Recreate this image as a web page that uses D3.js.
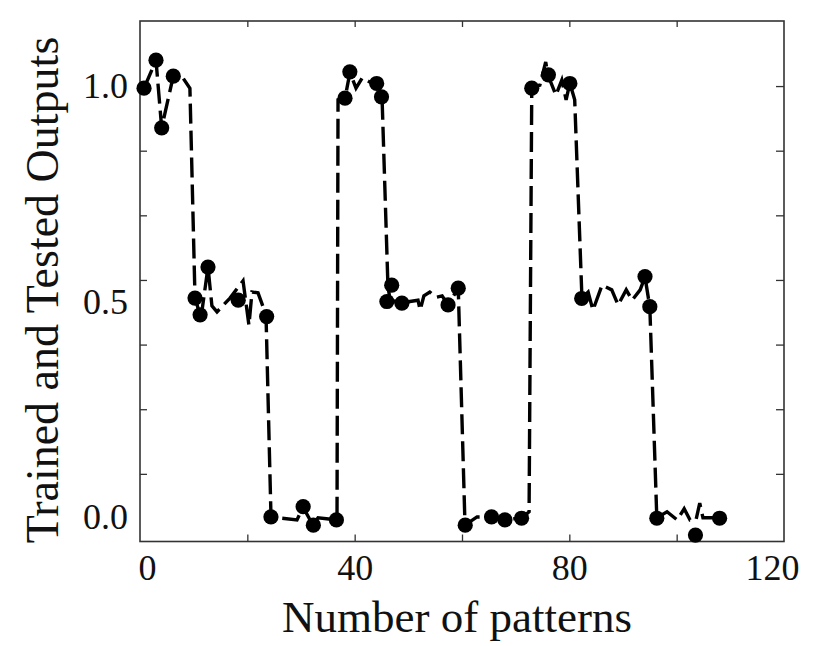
<!DOCTYPE html>
<html lang="en">
<head>
    <meta charset="UTF-8">
    <title>Trained and Tested Outputs</title>
    <script src="https://d3js.org/d3.v7.min.js"></script>
    <style>
        body {
            margin: 0;
            background-color: #fff;
        }
        svg text {
            font-family: "Liberation Serif", "DejaVu Serif", serif;
            fill: #111;
        }
        .tick line {
            stroke: #333;
            stroke-width: 1.3;
        }
    </style>
</head>
<body>
    <div id="chart"></div>

    <script>
        // Trained outputs (dashed line)
        const trainedX = [
            0.75, 2.98, 4.04, 6.2, 8.0, 9.3,
            10.25, 11.37, 12.67, 13.4, 14.35, 16.77, 19.2, 20.3, 20.87, 21.99, 23.48,
            24.41, 29.25, 30.37, 32.23, 33.17, 36.71,
            36.9, 38.2, 39.13, 40.25, 41.4, 42.86, 44.16, 45.1,
            46.2, 46.6, 48.8, 51.8, 52.2, 52.9, 54.0, 55.2, 56.3, 57.4, 59.3,
            60.56, 62.8, 65.6, 68.0, 71.2, 72.5,
            73.0, 74.5, 75.6, 76.0, 77.5, 78.6, 79.4, 80.1, 81.0,
            82.35, 83.5, 84.4, 86.1, 87.9, 89.1, 90.6, 91.7, 93.2, 94.1, 95.0,
            96.3, 98.2, 100.1, 101.4, 102.5, 103.6, 104.3, 104.9, 108.1
        ];
        const trainedY = [
            0.995, 1.060, 0.903, 1.023, 1.019, 0.995,
            0.508, 0.462, 0.580, 0.490, 0.476, 0.508, 0.548, 0.445, 0.522, 0.520, 0.469,
            0.0, -0.007, 0.023, -0.019, -0.002, -0.007,
            0.968, 0.972, 1.032, 0.995, 1.019, 1.009, 1.007, 0.974,
            0.536, 0.503, 0.497, 0.503, 0.480, 0.513, 0.522, 0.510, 0.513, 0.492, 0.531,
            -0.019, 0.0, 0.0, -0.007, -0.002, 0.012,
            0.995, 1.002, 1.056, 1.026, 0.979, 1.014, 0.968, 1.007, 0.968,
            0.508, 0.522, 0.480, 0.538, 0.527, 0.492, 0.527, 0.503, 0.527, 0.557, 0.487,
            -0.002, 0.012, -0.007, 0.019, -0.007, -0.007, 0.032, -0.002, -0.002
        ];

        // Tested outputs (filled circles)
        const testedX = [
            0.75, 2.98, 4.04, 6.2,
            10.25, 11.2, 12.67, 18.3, 23.6,
            24.4, 30.4, 32.3, 36.6,
            38.2, 39.1, 44.1, 45.0,
            46.0, 46.9, 48.8, 57.4, 59.3,
            60.6, 65.5, 68.0, 71.1,
            73.0, 76.1, 80.1,
            82.3, 94.1, 95.0,
            96.3, 103.5, 108.0
        ];
        const testedY = [
            0.995, 1.060, 0.903, 1.023,
            0.508, 0.469, 0.580, 0.503, 0.465,
            0.0, 0.024, -0.019, -0.007,
            0.972, 1.033, 1.006, 0.975,
            0.500, 0.538, 0.496, 0.492, 0.531,
            -0.019, 0.0, -0.007, -0.003,
            0.995, 1.026, 1.006,
            0.507, 0.558, 0.488,
            -0.003, -0.042, -0.003
        ];

        // Ticks and labels
        const xTickMarks = [20, 40, 60, 80, 100];
        const xTickLabels = [0, 40, 80, 120];
        const yTickMarks = [0.1, 0.25, 0.4, 0.55, 0.7, 0.85, 1.0];
        const yTickLabels = [0.0, 0.5, 1.0];

        const trained = trainedX.map((x, i) => ({ x: x, y: trainedY[i] }));
        const tested = testedX.map((x, i) => ({ x: x, y: testedY[i] }));

        let margin = { top: 21, right: 44, bottom: 104.5, left: 140 },
            width = 828 - margin.left - margin.right,
            height = 646 - margin.top - margin.bottom;

        let svg = d3.select("#chart")
            .append("svg")
            .attr("width", 828)
            .attr("height", 646)
            .append("g")
            .attr("transform", `translate(${margin.left},${margin.top})`);

        let x = d3.scaleLinear().domain([0, 120]).range([0, width]);
        let y = d3.scaleLinear().domain([-0.057, 1.151]).range([height, 0]);

        // inward tick marks on all four sides
        svg.append("g")
            .attr("transform", `translate(0,${height})`)
            .call(d3.axisBottom(x).tickValues(xTickMarks).tickSize(-7).tickFormat(""))
            .call(g => g.select(".domain").remove());
        svg.append("g")
            .call(d3.axisTop(x).tickValues(xTickMarks).tickSize(-6).tickFormat(""))
            .call(g => g.select(".domain").remove());
        svg.append("g")
            .call(d3.axisLeft(y).tickValues(yTickMarks).tickSize(-7).tickFormat(""))
            .call(g => g.select(".domain").remove());
        svg.append("g")
            .attr("transform", `translate(${width},0)`)
            .call(d3.axisRight(y).tickValues(yTickMarks).tickSize(-8).tickFormat(""))
            .call(g => g.select(".domain").remove());

        // tick labels (end labels sit a little inside, as in the scan)
        svg.append("g")
            .attr("transform", `translate(0,${height})`)
            .call(d3.axisBottom(x).tickValues(xTickLabels).tickSize(0).tickPadding(13).tickFormat(d3.format("d")))
            .call(g => g.select(".domain").remove())
            .selectAll("text")
            .attr("dx", d => d === 0 ? 7 : d === 120 ? -12 : 0)
            .style("font-size", "36px");
        svg.append("g")
            .call(d3.axisLeft(y).tickValues(yTickLabels).tickSize(0).tickPadding(12).tickFormat(d3.format(".1f")))
            .call(g => g.select(".domain").remove())
            .selectAll("text")
            .style("font-size", "36px");

        // frame
        svg.append("rect")
            .attr("width", width)
            .attr("height", height)
            .attr("fill", "none")
            .attr("stroke", "#333")
            .attr("stroke-width", 1.6);

        // dashed trained line
        let line = d3.line().x(d => x(d.x)).y(d => y(d.y));
        svg.append("path")
            .datum(trained)
            .attr("d", line)
            .attr("fill", "none")
            .attr("stroke", "#000")
            .attr("stroke-width", 3.4)
            .attr("stroke-dasharray", "20,7");

        // tested points
        svg.selectAll(".dot")
            .data(tested)
            .enter().append("circle")
            .attr("class", "dot")
            .attr("cx", d => x(d.x))
            .attr("cy", d => y(d.y))
            .attr("r", 7.6)
            .attr("fill", "#000");

        // axis titles
        svg.append("text")
            .attr("x", 457 - margin.left)
            .attr("y", 632 - margin.top)
            .attr("text-anchor", "middle")
            .style("font-size", "45px")
            .text("Number of patterns");

        svg.append("text")
            .attr("transform", `translate(${58 - margin.left},${290 - margin.top}) rotate(-90)`)
            .attr("text-anchor", "middle")
            .style("font-size", "46px")
            .text("Trained and Tested Outputs");
    </script>
</body>
</html>
